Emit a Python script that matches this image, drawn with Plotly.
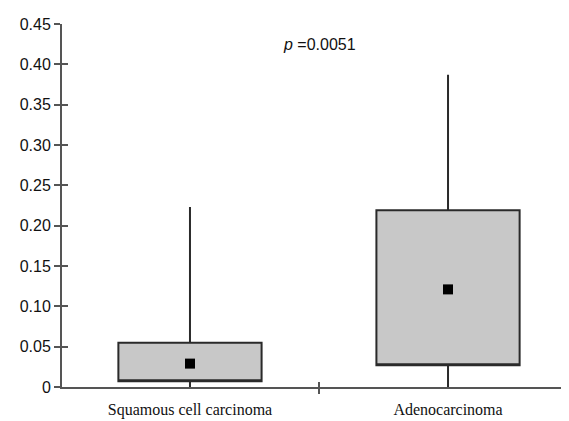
import plotly.graph_objects as go

categories = ["Squamous cell carcinoma", "Adenocarcinoma"]
q1_vals = [0.007, 0.027]
q3_vals = [0.055, 0.219]
upper_vals = [0.223, 0.387]
lower_vals = [0.0, 0.0]
mean_vals = [0.029, 0.121]
y_ticks = [0, 0.05, 0.10, 0.15, 0.20, 0.25, 0.30, 0.35, 0.40, 0.45]
y_ticktext = ["0", "0.05", "0.10", "0.15", "0.20", "0.25", "0.30", "0.35", "0.40", "0.45"]
p_text = "<i>p</i> =0.0051"

fig = go.Figure()
fig.add_trace(go.Box(
    x=categories, q1=q1_vals, median=q1_vals, q3=q3_vals,
    lowerfence=lower_vals, upperfence=upper_vals,
    width=0.555, fillcolor="#c8c8c8",
    line=dict(color="#2a2a2a", width=2), whiskerwidth=0,
    boxpoints=False, hoverinfo="skip", showlegend=False,
))
fig.add_trace(go.Scatter(
    x=categories, y=mean_vals, mode="markers",
    marker=dict(symbol="square", size=10, color="black"),
    showlegend=False, hoverinfo="skip",
))
# invisible trace to host the inner-tick overlay axes
fig.add_trace(go.Scatter(x=[0.5], y=[0.2], xaxis="x2", yaxis="y2", mode="markers",
                         marker=dict(opacity=0), showlegend=False, hoverinfo="skip"))

fig.add_annotation(x=0.5, y=0.424, xref="x", yref="y", text=p_text, showarrow=False,
                   font=dict(family="Liberation Sans", size=16, color="#111"))

xr = [-0.496, 1.465]
yr = [0, 0.45]
fig.update_layout(
    width=561, height=413,
    margin=dict(l=54, r=1, t=16, b=34),
    paper_bgcolor="white", plot_bgcolor="white",
    xaxis=dict(type="category", range=xr, showline=True, linecolor="#555", linewidth=2,
               ticks="outside", tickson="boundaries", ticklen=5, tickwidth=2, tickcolor="#555",
               showgrid=False, zeroline=False, ticklabelstandoff=7,
               tickfont=dict(family="Liberation Serif", size=16, color="#111")),
    yaxis=dict(range=yr, tickvals=y_ticks, ticktext=y_ticktext, showline=True,
               linecolor="#555", linewidth=2, ticks="outside", ticklen=6, tickwidth=2,
               tickcolor="#555", showgrid=False, zeroline=False, ticksuffix="&nbsp;",
               tickfont=dict(family="Liberation Sans", size=16, color="#111")),
    xaxis2=dict(overlaying="x", anchor="y", range=xr, tickvals=[0.5], ticks="inside", ticklen=5,
                tickwidth=2, tickcolor="#555", showticklabels=False, showline=False,
                showgrid=False, zeroline=False),
    yaxis2=dict(overlaying="y", anchor="x", range=yr, tickvals=y_ticks, ticks="inside", ticklen=6,
                tickwidth=2, tickcolor="#555", showticklabels=False, showline=False,
                showgrid=False, zeroline=False),
)

fig.write_html("out.html")
